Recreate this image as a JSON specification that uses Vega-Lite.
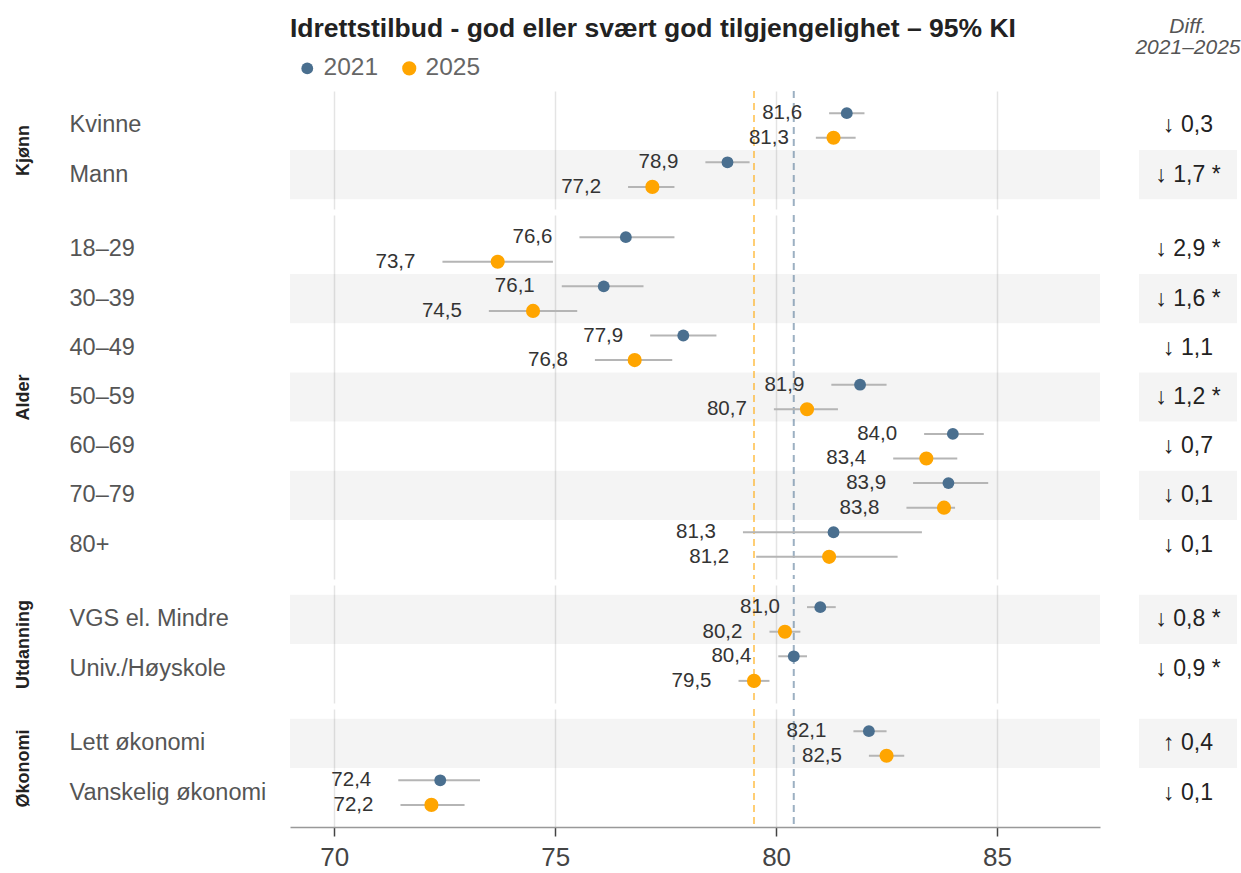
{
  "$schema": "https://vega.github.io/schema/vega-lite/v6.json",
  "padding": {"left": 14, "top": 15, "right": 0, "bottom": 0},
  "config": {
    "font": "Liberation Sans",
    "locale": {"number": {"decimal": ",", "thousands": " ", "grouping": [3], "currency": ["", " kr"]}},
    "view": {"stroke": null},
    "axisX": {"grid": true, "gridColor": "#e4e4e4", "gridWidth": 1.5, "labels": false, "ticks": false, "domain": false, "tickCount": 4},
    "axisY": {"labelAlign": "left", "labelPadding": 221, "labelFontSize": 23.5, "labelColor": "#555555", "labelLimit": 300, "ticks": false, "domain": false, "grid": false, "titleFontSize": 18, "titleFontWeight": "bold", "titleColor": "#222222", "titlePadding": 58}
  },
  "datasets": {
    "pts": [
      {"group": "Kjønn", "cat": "Kvinne", "year": "2021", "value": 81.6, "lo": 81.2, "hi": 82.0},
      {"group": "Kjønn", "cat": "Kvinne", "year": "2025", "value": 81.3, "lo": 80.9, "hi": 81.8},
      {"group": "Kjønn", "cat": "Mann", "year": "2021", "value": 78.9, "lo": 78.4, "hi": 79.4},
      {"group": "Kjønn", "cat": "Mann", "year": "2025", "value": 77.2, "lo": 76.65, "hi": 77.7},
      {"group": "Alder", "cat": "18–29", "year": "2021", "value": 76.6, "lo": 75.55, "hi": 77.7},
      {"group": "Alder", "cat": "18–29", "year": "2025", "value": 73.7, "lo": 72.45, "hi": 74.95},
      {"group": "Alder", "cat": "30–39", "year": "2021", "value": 76.1, "lo": 75.15, "hi": 77.0},
      {"group": "Alder", "cat": "30–39", "year": "2025", "value": 74.5, "lo": 73.5, "hi": 75.5},
      {"group": "Alder", "cat": "40–49", "year": "2021", "value": 77.9, "lo": 77.15, "hi": 78.65},
      {"group": "Alder", "cat": "40–49", "year": "2025", "value": 76.8, "lo": 75.9, "hi": 77.65},
      {"group": "Alder", "cat": "50–59", "year": "2021", "value": 81.9, "lo": 81.25, "hi": 82.5},
      {"group": "Alder", "cat": "50–59", "year": "2025", "value": 80.7, "lo": 79.95, "hi": 81.4},
      {"group": "Alder", "cat": "60–69", "year": "2021", "value": 84.0, "lo": 83.35, "hi": 84.7},
      {"group": "Alder", "cat": "60–69", "year": "2025", "value": 83.4, "lo": 82.65, "hi": 84.1},
      {"group": "Alder", "cat": "70–79", "year": "2021", "value": 83.9, "lo": 83.1, "hi": 84.8},
      {"group": "Alder", "cat": "70–79", "year": "2025", "value": 83.8, "lo": 82.95, "hi": 84.05},
      {"group": "Alder", "cat": "80+", "year": "2021", "value": 81.3, "lo": 79.25, "hi": 83.3},
      {"group": "Alder", "cat": "80+", "year": "2025", "value": 81.2, "lo": 79.55, "hi": 82.75},
      {"group": "Utdanning", "cat": "VGS el. Mindre", "year": "2021", "value": 81.0, "lo": 80.7, "hi": 81.35},
      {"group": "Utdanning", "cat": "VGS el. Mindre", "year": "2025", "value": 80.2, "lo": 79.85, "hi": 80.55},
      {"group": "Utdanning", "cat": "Univ./Høyskole", "year": "2021", "value": 80.4, "lo": 80.05, "hi": 80.7},
      {"group": "Utdanning", "cat": "Univ./Høyskole", "year": "2025", "value": 79.5, "lo": 79.15, "hi": 79.85},
      {"group": "Økonomi", "cat": "Lett økonomi", "year": "2021", "value": 82.1, "lo": 81.75, "hi": 82.5},
      {"group": "Økonomi", "cat": "Lett økonomi", "year": "2025", "value": 82.5, "lo": 82.1, "hi": 82.9},
      {"group": "Økonomi", "cat": "Vanskelig økonomi", "year": "2021", "value": 72.4, "lo": 71.45, "hi": 73.3},
      {"group": "Økonomi", "cat": "Vanskelig økonomi", "year": "2025", "value": 72.2, "lo": 71.5, "hi": 72.95}
    ],
    "cats": [
      {"group": "Kjønn", "cat": "Kvinne", "diff": "↓ 0,3"},
      {"group": "Kjønn", "cat": "Mann", "diff": "↓ 1,7 *"},
      {"group": "Alder", "cat": "18–29", "diff": "↓ 2,9 *"},
      {"group": "Alder", "cat": "30–39", "diff": "↓ 1,6 *"},
      {"group": "Alder", "cat": "40–49", "diff": "↓ 1,1"},
      {"group": "Alder", "cat": "50–59", "diff": "↓ 1,2 *"},
      {"group": "Alder", "cat": "60–69", "diff": "↓ 0,7"},
      {"group": "Alder", "cat": "70–79", "diff": "↓ 0,1"},
      {"group": "Alder", "cat": "80+", "diff": "↓ 0,1"},
      {"group": "Utdanning", "cat": "VGS el. Mindre", "diff": "↓ 0,8 *"},
      {"group": "Utdanning", "cat": "Univ./Høyskole", "diff": "↓ 0,9 *"},
      {"group": "Økonomi", "cat": "Lett økonomi", "diff": "↑ 0,4"},
      {"group": "Økonomi", "cat": "Vanskelig økonomi", "diff": "↓ 0,1"}
    ],
    "refs": [
      {"year": "2021", "avg": 80.4},
      {"year": "2025", "avg": 79.5}
    ]
  },
  "columns": 2,
  "align": "each",
  "spacing": {"row": 4, "column": 35},
  "resolve": {
    "scale": {"color": "independent", "size": "independent"},
    "legend": {"color": "independent", "size": "independent"}
  },
  "concat": [
    {
      "width": 810, "height": 118,
      "title": {"text": "Idrettstilbud - god eller svært god tilgjengelighet – 95% KI", "anchor": "start", "frame": "group", "fontSize": 26.5, "fontWeight": "bold", "color": "#222222", "offset": 9},
      "layer": [
        {
          "data": {"name": "cats"},
          "transform": [{"window": [{"op": "row_number", "as": "idx"}]}, {"filter": "datum.group === 'Kjønn' && datum.idx % 2 === 0"}],
          "mark": {"type": "rect", "color": "#000000", "opacity": 0.045},
          "encoding": {"y": {"field": "cat", "type": "nominal", "title": "Kjønn", "scale": {"domain": ["Kvinne", "Mann"], "paddingInner": 0, "paddingOuter": 0.2}}}
        },
        {
          "data": {"name": "refs"},
          "transform": [{"filter": "datum.year === '2025'"}],
          "mark": {"type": "rule", "color": "#ffa500", "opacity": 0.55, "strokeDash": [7, 5], "strokeWidth": 2},
          "encoding": {"x": {"field": "avg", "type": "quantitative", "title": null, "scale": {"domain": [69, 87.33], "nice": false, "zero": false}}}
        },
        {
          "data": {"name": "refs"},
          "transform": [{"filter": "datum.year === '2021'"}],
          "mark": {"type": "rule", "color": "#4a6f8f", "opacity": 0.55, "strokeDash": [7, 5], "strokeWidth": 2},
          "encoding": {"x": {"field": "avg", "type": "quantitative", "title": null, "scale": {"domain": [69, 87.33], "nice": false, "zero": false}}}
        },
        {
          "data": {"name": "pts"},
          "transform": [{"filter": "datum.group === 'Kjønn'"}],
          "mark": {"type": "rule", "color": "#b5b5b5", "strokeWidth": 2},
          "encoding": {
            "x": {"field": "lo", "type": "quantitative", "title": null, "scale": {"domain": [69, 87.33], "nice": false, "zero": false}},
            "x2": {"field": "hi"},
            "y": {"field": "cat", "type": "nominal", "title": "Kjønn", "scale": {"domain": ["Kvinne", "Mann"], "paddingInner": 0, "paddingOuter": 0.2}},
            "yOffset": {"field": "year", "type": "nominal", "scale": {"domain": ["2021", "2025"], "paddingInner": 0, "paddingOuter": 0}}
          }
        },
        {
          "data": {"name": "pts"},
          "transform": [{"filter": "datum.group === 'Kjønn'"}],
          "mark": {"type": "point", "filled": true, "opacity": 1},
          "encoding": {
            "x": {"field": "value", "type": "quantitative", "title": null, "scale": {"domain": [69, 87.33], "nice": false, "zero": false}},
            "y": {"field": "cat", "type": "nominal", "title": "Kjønn", "scale": {"domain": ["Kvinne", "Mann"], "paddingInner": 0, "paddingOuter": 0.2}},
            "yOffset": {"field": "year", "type": "nominal", "scale": {"domain": ["2021", "2025"], "paddingInner": 0, "paddingOuter": 0}},
            "color": {"field": "year", "type": "nominal", "scale": {"domain": ["2021", "2025"], "range": ["#4a6f8f", "#ffa500"]}, "legend": {"orient": "top", "direction": "horizontal", "title": null, "labelFontSize": 24.5, "labelColor": "#666666", "symbolType": "circle", "offset": 6, "labelOffset": 4, "columnPadding": 18, "padding": 5, "symbolStrokeWidth": 0}},
            "size": {"field": "year", "type": "nominal", "scale": {"domain": ["2021", "2025"], "range": [140, 200]}, "legend": {"orient": "top", "direction": "horizontal", "title": null, "labelFontSize": 24.5, "labelColor": "#666666", "symbolType": "circle", "offset": 6, "labelOffset": 4, "columnPadding": 18, "padding": 5, "symbolStrokeWidth": 0}}
          }
        },
        {
          "data": {"name": "pts"},
          "transform": [{"filter": "datum.group === 'Kjønn'"}],
          "mark": {"type": "text", "align": "right", "baseline": "middle", "dx": -27, "fontSize": 20.5, "color": "#333333"},
          "encoding": {
            "x": {"field": "lo", "type": "quantitative", "title": null, "scale": {"domain": [69, 87.33], "nice": false, "zero": false}},
            "y": {"field": "cat", "type": "nominal", "title": "Kjønn", "scale": {"domain": ["Kvinne", "Mann"], "paddingInner": 0, "paddingOuter": 0.2}},
            "yOffset": {"field": "year", "type": "nominal", "scale": {"domain": ["2021", "2025"], "paddingInner": 0, "paddingOuter": 0}},
            "text": {"field": "value", "type": "quantitative", "format": ".1f"}
          }
        }
      ]
    },
    {
      "width": 98, "height": 118,
      "title": {"text": ["Diff.", "2021–2025"], "anchor": "middle", "frame": "group", "fontSize": 21, "fontStyle": "italic", "fontWeight": "normal", "color": "#555555", "lineHeight": 21, "offset": 33},
      "layer": [
        {
          "data": {"name": "cats"},
          "transform": [{"window": [{"op": "row_number", "as": "idx"}]}, {"filter": "datum.group === 'Kjønn' && datum.idx % 2 === 0"}],
          "mark": {"type": "rect", "color": "#000000", "opacity": 0.045},
          "encoding": {"y": {"field": "cat", "type": "nominal", "axis": null, "scale": {"domain": ["Kvinne", "Mann"], "paddingInner": 0, "paddingOuter": 0.2}}}
        },
        {
          "data": {"name": "cats"},
          "transform": [{"filter": "datum.group === 'Kjønn'"}],
          "mark": {"type": "text", "fontSize": 23, "color": "#222222", "baseline": "middle"},
          "encoding": {
            "y": {"field": "cat", "type": "nominal", "axis": null, "scale": {"domain": ["Kvinne", "Mann"], "paddingInner": 0, "paddingOuter": 0.2}},
            "text": {"field": "diff"}
          }
        }
      ]
    },
    {
      "width": 810, "height": 364,
      "layer": [
        {
          "data": {"name": "cats"},
          "transform": [{"window": [{"op": "row_number", "as": "idx"}]}, {"filter": "datum.group === 'Alder' && datum.idx % 2 === 0"}],
          "mark": {"type": "rect", "color": "#000000", "opacity": 0.045},
          "encoding": {"y": {"field": "cat", "type": "nominal", "title": "Alder", "scale": {"domain": ["18–29", "30–39", "40–49", "50–59", "60–69", "70–79", "80+"], "paddingInner": 0, "paddingOuter": 0.2}}}
        },
        {
          "data": {"name": "refs"},
          "transform": [{"filter": "datum.year === '2025'"}],
          "mark": {"type": "rule", "color": "#ffa500", "opacity": 0.55, "strokeDash": [7, 5], "strokeWidth": 2},
          "encoding": {"x": {"field": "avg", "type": "quantitative", "title": null, "scale": {"domain": [69, 87.33], "nice": false, "zero": false}}}
        },
        {
          "data": {"name": "refs"},
          "transform": [{"filter": "datum.year === '2021'"}],
          "mark": {"type": "rule", "color": "#4a6f8f", "opacity": 0.55, "strokeDash": [7, 5], "strokeWidth": 2},
          "encoding": {"x": {"field": "avg", "type": "quantitative", "title": null, "scale": {"domain": [69, 87.33], "nice": false, "zero": false}}}
        },
        {
          "data": {"name": "pts"},
          "transform": [{"filter": "datum.group === 'Alder'"}],
          "mark": {"type": "rule", "color": "#b5b5b5", "strokeWidth": 2},
          "encoding": {
            "x": {"field": "lo", "type": "quantitative", "title": null, "scale": {"domain": [69, 87.33], "nice": false, "zero": false}},
            "x2": {"field": "hi"},
            "y": {"field": "cat", "type": "nominal", "title": "Alder", "scale": {"domain": ["18–29", "30–39", "40–49", "50–59", "60–69", "70–79", "80+"], "paddingInner": 0, "paddingOuter": 0.2}},
            "yOffset": {"field": "year", "type": "nominal", "scale": {"domain": ["2021", "2025"], "paddingInner": 0, "paddingOuter": 0}}
          }
        },
        {
          "data": {"name": "pts"},
          "transform": [{"filter": "datum.group === 'Alder'"}],
          "mark": {"type": "point", "filled": true, "opacity": 1},
          "encoding": {
            "x": {"field": "value", "type": "quantitative", "title": null, "scale": {"domain": [69, 87.33], "nice": false, "zero": false}},
            "y": {"field": "cat", "type": "nominal", "title": "Alder", "scale": {"domain": ["18–29", "30–39", "40–49", "50–59", "60–69", "70–79", "80+"], "paddingInner": 0, "paddingOuter": 0.2}},
            "yOffset": {"field": "year", "type": "nominal", "scale": {"domain": ["2021", "2025"], "paddingInner": 0, "paddingOuter": 0}},
            "color": {"field": "year", "type": "nominal", "scale": {"domain": ["2021", "2025"], "range": ["#4a6f8f", "#ffa500"]}, "legend": null},
            "size": {"field": "year", "type": "nominal", "scale": {"domain": ["2021", "2025"], "range": [140, 200]}, "legend": null}
          }
        },
        {
          "data": {"name": "pts"},
          "transform": [{"filter": "datum.group === 'Alder'"}],
          "mark": {"type": "text", "align": "right", "baseline": "middle", "dx": -27, "fontSize": 20.5, "color": "#333333"},
          "encoding": {
            "x": {"field": "lo", "type": "quantitative", "title": null, "scale": {"domain": [69, 87.33], "nice": false, "zero": false}},
            "y": {"field": "cat", "type": "nominal", "title": "Alder", "scale": {"domain": ["18–29", "30–39", "40–49", "50–59", "60–69", "70–79", "80+"], "paddingInner": 0, "paddingOuter": 0.2}},
            "yOffset": {"field": "year", "type": "nominal", "scale": {"domain": ["2021", "2025"], "paddingInner": 0, "paddingOuter": 0}},
            "text": {"field": "value", "type": "quantitative", "format": ".1f"}
          }
        }
      ]
    },
    {
      "width": 98, "height": 364,
      "layer": [
        {
          "data": {"name": "cats"},
          "transform": [{"window": [{"op": "row_number", "as": "idx"}]}, {"filter": "datum.group === 'Alder' && datum.idx % 2 === 0"}],
          "mark": {"type": "rect", "color": "#000000", "opacity": 0.045},
          "encoding": {"y": {"field": "cat", "type": "nominal", "axis": null, "scale": {"domain": ["18–29", "30–39", "40–49", "50–59", "60–69", "70–79", "80+"], "paddingInner": 0, "paddingOuter": 0.2}}}
        },
        {
          "data": {"name": "cats"},
          "transform": [{"filter": "datum.group === 'Alder'"}],
          "mark": {"type": "text", "fontSize": 23, "color": "#222222", "baseline": "middle"},
          "encoding": {
            "y": {"field": "cat", "type": "nominal", "axis": null, "scale": {"domain": ["18–29", "30–39", "40–49", "50–59", "60–69", "70–79", "80+"], "paddingInner": 0, "paddingOuter": 0.2}},
            "text": {"field": "diff"}
          }
        }
      ]
    },
    {
      "width": 810, "height": 118,
      "layer": [
        {
          "data": {"name": "cats"},
          "transform": [{"window": [{"op": "row_number", "as": "idx"}]}, {"filter": "datum.group === 'Utdanning' && datum.idx % 2 === 0"}],
          "mark": {"type": "rect", "color": "#000000", "opacity": 0.045},
          "encoding": {"y": {"field": "cat", "type": "nominal", "title": "Utdanning", "scale": {"domain": ["VGS el. Mindre", "Univ./Høyskole"], "paddingInner": 0, "paddingOuter": 0.2}}}
        },
        {
          "data": {"name": "refs"},
          "transform": [{"filter": "datum.year === '2025'"}],
          "mark": {"type": "rule", "color": "#ffa500", "opacity": 0.55, "strokeDash": [7, 5], "strokeWidth": 2},
          "encoding": {"x": {"field": "avg", "type": "quantitative", "title": null, "scale": {"domain": [69, 87.33], "nice": false, "zero": false}}}
        },
        {
          "data": {"name": "refs"},
          "transform": [{"filter": "datum.year === '2021'"}],
          "mark": {"type": "rule", "color": "#4a6f8f", "opacity": 0.55, "strokeDash": [7, 5], "strokeWidth": 2},
          "encoding": {"x": {"field": "avg", "type": "quantitative", "title": null, "scale": {"domain": [69, 87.33], "nice": false, "zero": false}}}
        },
        {
          "data": {"name": "pts"},
          "transform": [{"filter": "datum.group === 'Utdanning'"}],
          "mark": {"type": "rule", "color": "#b5b5b5", "strokeWidth": 2},
          "encoding": {
            "x": {"field": "lo", "type": "quantitative", "title": null, "scale": {"domain": [69, 87.33], "nice": false, "zero": false}},
            "x2": {"field": "hi"},
            "y": {"field": "cat", "type": "nominal", "title": "Utdanning", "scale": {"domain": ["VGS el. Mindre", "Univ./Høyskole"], "paddingInner": 0, "paddingOuter": 0.2}},
            "yOffset": {"field": "year", "type": "nominal", "scale": {"domain": ["2021", "2025"], "paddingInner": 0, "paddingOuter": 0}}
          }
        },
        {
          "data": {"name": "pts"},
          "transform": [{"filter": "datum.group === 'Utdanning'"}],
          "mark": {"type": "point", "filled": true, "opacity": 1},
          "encoding": {
            "x": {"field": "value", "type": "quantitative", "title": null, "scale": {"domain": [69, 87.33], "nice": false, "zero": false}},
            "y": {"field": "cat", "type": "nominal", "title": "Utdanning", "scale": {"domain": ["VGS el. Mindre", "Univ./Høyskole"], "paddingInner": 0, "paddingOuter": 0.2}},
            "yOffset": {"field": "year", "type": "nominal", "scale": {"domain": ["2021", "2025"], "paddingInner": 0, "paddingOuter": 0}},
            "color": {"field": "year", "type": "nominal", "scale": {"domain": ["2021", "2025"], "range": ["#4a6f8f", "#ffa500"]}, "legend": null},
            "size": {"field": "year", "type": "nominal", "scale": {"domain": ["2021", "2025"], "range": [140, 200]}, "legend": null}
          }
        },
        {
          "data": {"name": "pts"},
          "transform": [{"filter": "datum.group === 'Utdanning'"}],
          "mark": {"type": "text", "align": "right", "baseline": "middle", "dx": -27, "fontSize": 20.5, "color": "#333333"},
          "encoding": {
            "x": {"field": "lo", "type": "quantitative", "title": null, "scale": {"domain": [69, 87.33], "nice": false, "zero": false}},
            "y": {"field": "cat", "type": "nominal", "title": "Utdanning", "scale": {"domain": ["VGS el. Mindre", "Univ./Høyskole"], "paddingInner": 0, "paddingOuter": 0.2}},
            "yOffset": {"field": "year", "type": "nominal", "scale": {"domain": ["2021", "2025"], "paddingInner": 0, "paddingOuter": 0}},
            "text": {"field": "value", "type": "quantitative", "format": ".1f"}
          }
        }
      ]
    },
    {
      "width": 98, "height": 118,
      "layer": [
        {
          "data": {"name": "cats"},
          "transform": [{"window": [{"op": "row_number", "as": "idx"}]}, {"filter": "datum.group === 'Utdanning' && datum.idx % 2 === 0"}],
          "mark": {"type": "rect", "color": "#000000", "opacity": 0.045},
          "encoding": {"y": {"field": "cat", "type": "nominal", "axis": null, "scale": {"domain": ["VGS el. Mindre", "Univ./Høyskole"], "paddingInner": 0, "paddingOuter": 0.2}}}
        },
        {
          "data": {"name": "cats"},
          "transform": [{"filter": "datum.group === 'Utdanning'"}],
          "mark": {"type": "text", "fontSize": 23, "color": "#222222", "baseline": "middle"},
          "encoding": {
            "y": {"field": "cat", "type": "nominal", "axis": null, "scale": {"domain": ["VGS el. Mindre", "Univ./Høyskole"], "paddingInner": 0, "paddingOuter": 0.2}},
            "text": {"field": "diff"}
          }
        }
      ]
    },
    {
      "width": 810, "height": 118,
      "layer": [
        {
          "data": {"name": "cats"},
          "transform": [{"window": [{"op": "row_number", "as": "idx"}]}, {"filter": "datum.group === 'Økonomi' && datum.idx % 2 === 0"}],
          "mark": {"type": "rect", "color": "#000000", "opacity": 0.045},
          "encoding": {"y": {"field": "cat", "type": "nominal", "title": "Økonomi", "scale": {"domain": ["Lett økonomi", "Vanskelig økonomi"], "paddingInner": 0, "paddingOuter": 0.2}}}
        },
        {
          "data": {"name": "refs"},
          "transform": [{"filter": "datum.year === '2025'"}],
          "mark": {"type": "rule", "color": "#ffa500", "opacity": 0.55, "strokeDash": [7, 5], "strokeWidth": 2},
          "encoding": {"x": {"field": "avg", "type": "quantitative", "title": null, "scale": {"domain": [69, 87.33], "nice": false, "zero": false}}}
        },
        {
          "data": {"name": "refs"},
          "transform": [{"filter": "datum.year === '2021'"}],
          "mark": {"type": "rule", "color": "#4a6f8f", "opacity": 0.55, "strokeDash": [7, 5], "strokeWidth": 2},
          "encoding": {"x": {"field": "avg", "type": "quantitative", "title": null, "scale": {"domain": [69, 87.33], "nice": false, "zero": false}}}
        },
        {
          "data": {"name": "pts"},
          "transform": [{"filter": "datum.group === 'Økonomi'"}],
          "mark": {"type": "rule", "color": "#b5b5b5", "strokeWidth": 2},
          "encoding": {
            "x": {"field": "lo", "type": "quantitative", "title": null, "scale": {"domain": [69, 87.33], "nice": false, "zero": false}, "axis": {"labels": true, "ticks": true, "domain": true, "domainColor": "#999999", "domainWidth": 1.5, "tickColor": "#444444", "tickSize": 9, "tickWidth": 1.5, "labelFontSize": 26, "labelColor": "#444444", "labelPadding": 8}},
            "x2": {"field": "hi"},
            "y": {"field": "cat", "type": "nominal", "title": "Økonomi", "scale": {"domain": ["Lett økonomi", "Vanskelig økonomi"], "paddingInner": 0, "paddingOuter": 0.2}},
            "yOffset": {"field": "year", "type": "nominal", "scale": {"domain": ["2021", "2025"], "paddingInner": 0, "paddingOuter": 0}}
          }
        },
        {
          "data": {"name": "pts"},
          "transform": [{"filter": "datum.group === 'Økonomi'"}],
          "mark": {"type": "point", "filled": true, "opacity": 1},
          "encoding": {
            "x": {"field": "value", "type": "quantitative", "title": null, "scale": {"domain": [69, 87.33], "nice": false, "zero": false}},
            "y": {"field": "cat", "type": "nominal", "title": "Økonomi", "scale": {"domain": ["Lett økonomi", "Vanskelig økonomi"], "paddingInner": 0, "paddingOuter": 0.2}},
            "yOffset": {"field": "year", "type": "nominal", "scale": {"domain": ["2021", "2025"], "paddingInner": 0, "paddingOuter": 0}},
            "color": {"field": "year", "type": "nominal", "scale": {"domain": ["2021", "2025"], "range": ["#4a6f8f", "#ffa500"]}, "legend": null},
            "size": {"field": "year", "type": "nominal", "scale": {"domain": ["2021", "2025"], "range": [140, 200]}, "legend": null}
          }
        },
        {
          "data": {"name": "pts"},
          "transform": [{"filter": "datum.group === 'Økonomi'"}],
          "mark": {"type": "text", "align": "right", "baseline": "middle", "dx": -27, "fontSize": 20.5, "color": "#333333"},
          "encoding": {
            "x": {"field": "lo", "type": "quantitative", "title": null, "scale": {"domain": [69, 87.33], "nice": false, "zero": false}},
            "y": {"field": "cat", "type": "nominal", "title": "Økonomi", "scale": {"domain": ["Lett økonomi", "Vanskelig økonomi"], "paddingInner": 0, "paddingOuter": 0.2}},
            "yOffset": {"field": "year", "type": "nominal", "scale": {"domain": ["2021", "2025"], "paddingInner": 0, "paddingOuter": 0}},
            "text": {"field": "value", "type": "quantitative", "format": ".1f"}
          }
        }
      ]
    },
    {
      "width": 98, "height": 118,
      "layer": [
        {
          "data": {"name": "cats"},
          "transform": [{"window": [{"op": "row_number", "as": "idx"}]}, {"filter": "datum.group === 'Økonomi' && datum.idx % 2 === 0"}],
          "mark": {"type": "rect", "color": "#000000", "opacity": 0.045},
          "encoding": {"y": {"field": "cat", "type": "nominal", "axis": null, "scale": {"domain": ["Lett økonomi", "Vanskelig økonomi"], "paddingInner": 0, "paddingOuter": 0.2}}}
        },
        {
          "data": {"name": "cats"},
          "transform": [{"filter": "datum.group === 'Økonomi'"}],
          "mark": {"type": "text", "fontSize": 23, "color": "#222222", "baseline": "middle"},
          "encoding": {
            "y": {"field": "cat", "type": "nominal", "axis": null, "scale": {"domain": ["Lett økonomi", "Vanskelig økonomi"], "paddingInner": 0, "paddingOuter": 0.2}},
            "text": {"field": "diff"}
          }
        }
      ]
    }
  ]
}
